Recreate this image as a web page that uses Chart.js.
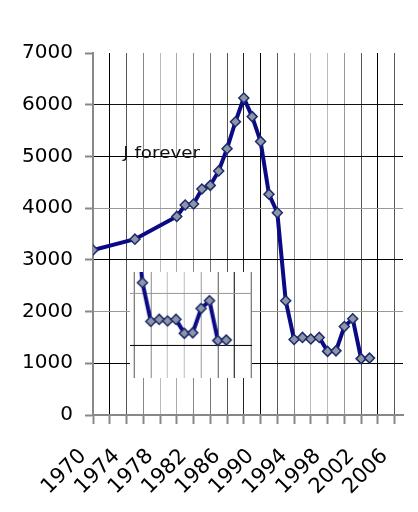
<!DOCTYPE html>
<html>
<head>
<meta charset="utf-8">
<script src="https://cdn.jsdelivr.net/npm/chart.js@4.4.0/dist/chart.umd.min.js"></script>
<style>
  html, body { margin: 0; padding: 0; background: #fff; }
  canvas { display: block; }
</style>
</head>
<body>
<canvas id="chart" width="418" height="512"></canvas>
<script>
// values
const years = [1970, 1975, 1980, 1981, 1982, 1983, 1984, 1985, 1986, 1987, 1988, 1989,
               1990, 1991, 1992, 1993, 1994, 1995, 1996, 1997, 1998, 1999, 2000, 2001, 2002, 2003];
const values = [3190, 3400, 3840, 4060, 4080, 4370, 4440, 4720, 5150, 5670, 6130, 5770,
                5290, 4270, 3910, 2210, 1460, 1500, 1470, 1500, 1230, 1240, 1710, 1860, 1090, 1100];
const yearLabels = [1970, 1974, 1978, 1982, 1986, 1990, 1994, 1998, 2002, 2006];
const noteText = 'J forever';

// gridline shades as they come out in the picture
const xGridColors = {
  1972: '#000', 1974: '#555', 1976: '#888', 1978: '#bbb', 1980: '#aaa', 1982: '#888',
  1984: '#777', 1986: '#555', 1988: '#222', 1990: '#000', 1992: '#555', 1994: '#888',
  1996: '#bbb', 1998: '#bbb', 2000: '#999', 2002: '#555', 2004: '#000', 2006: '#555'
};
const yGridColors = { 0: '#888', 1000: '#000', 2000: '#999', 3000: '#000', 4000: '#999',
  5000: '#000', 6000: '#111', 7000: 'rgba(0,0,0,0)' };

const points = years.map((yr, i) => ({ x: yr, y: values[i] }));

// white background, so the pasted patch below covers the grid
const background = {
  id: 'background',
  beforeDraw(chart) {
    const ctx = chart.ctx;
    ctx.save();
    ctx.fillStyle = '#fff';
    ctx.fillRect(0, 0, chart.width, chart.height);
    ctx.restore();
  }
};

const note = {
  id: 'note',
  afterDatasetsDraw(chart) {
    const ctx = chart.ctx;
    const x = chart.scales.x, y = chart.scales.y;
    ctx.save();
    ctx.translate(x.getPixelForValue(1973.6), y.getPixelForValue(4970));
    ctx.scale(1.22, 1);   // picture is stretched sideways
    ctx.font = '15px "DejaVu Sans"';
    ctx.fillStyle = '#111';
    ctx.textBaseline = 'alphabetic';
    ctx.fillText(noteText, 0, 0);
    ctx.restore();
  }
};

// the picture has a stray copy of the lower right corner pasted over the left;
// copy that piece of the rendered canvas the same way
const patch = {
  id: 'patch',
  afterDraw(chart) {
    const x = chart.scales.x, y = chart.scales.y;
    const r = chart.currentDevicePixelRatio || 1;
    const sx = x.getPixelForValue(1991.5), ex = x.getPixelForValue(2006.1);
    const sy = y.getPixelForValue(2420), ey = y.getPixelForValue(370);
    const dx = x.getPixelForValue(1991.5 - 17.1), dy = y.getPixelForValue(2420 + 350);
    const ctx = chart.ctx;
    ctx.save();
    ctx.setTransform(1, 0, 0, 1, 0, 0);
    ctx.drawImage(chart.canvas, sx * r, sy * r, (ex - sx) * r, (ey - sy) * r,
                  dx * r, dy * r, (ex - sx) * r, (ey - sy) * r);
    ctx.restore();
  }
};

new Chart(document.getElementById('chart'), {
  type: 'line',
  data: {
    datasets: [{
      data: points,
      borderColor: '#0a0a86',
      borderWidth: 4,
      tension: 0,
      pointStyle: 'rectRot',
      pointRadius: 5,
      pointBackgroundColor: '#8e96a6',
      pointBorderColor: '#1c2a6e',
      pointBorderWidth: 1.5
    }]
  },
  options: {
    responsive: false,
    animation: false,
    layout: { padding: { top: 53, right: 15, left: 0, bottom: 0 } },
    plugins: { legend: { display: false }, tooltip: { enabled: false } },
    scales: {
      x: {
        type: 'linear',
        min: 1970,
        max: 2007,
        afterFit(scale) {
          scale.height = 97;
          scale.paddingLeft = 0;
          scale.paddingRight = 0;
        },
        ticks: {
          stepSize: 2,
          includeBounds: false,
          autoSkip: false,
          minRotation: 45,
          maxRotation: 45,
          padding: 20,
          labelOffset: -10,
          color: '#000',
          font: { family: 'DejaVu Sans', size: 21 },
          callback: v => yearLabels.includes(v) ? String(v) : ''
        },
        grid: {
          color: c => xGridColors[c.tick ? c.tick.value : 0] || '#888',
          lineWidth: 1,
          tickColor: '#888',
          tickWidth: 2,
          tickLength: 9
        },
        border: { color: '#888', width: 2 }
      },
      y: {
        min: 0,
        max: 7000,
        afterFit(scale) { scale.width = 93; },
        ticks: {
          stepSize: 1000,
          padding: 12,
          color: '#000',
          font: { family: 'DejaVu Sans', size: 20 },
          callback: v => String(v)
        },
        grid: {
          color: c => yGridColors[c.tick ? c.tick.value : 0] || '#888',
          lineWidth: 1,
          tickColor: '#888',
          tickWidth: 2,
          tickLength: 8
        },
        border: { color: '#888', width: 2 }
      }
    }
  },
  plugins: [background, note, patch]
});
</script>
</body>
</html>
